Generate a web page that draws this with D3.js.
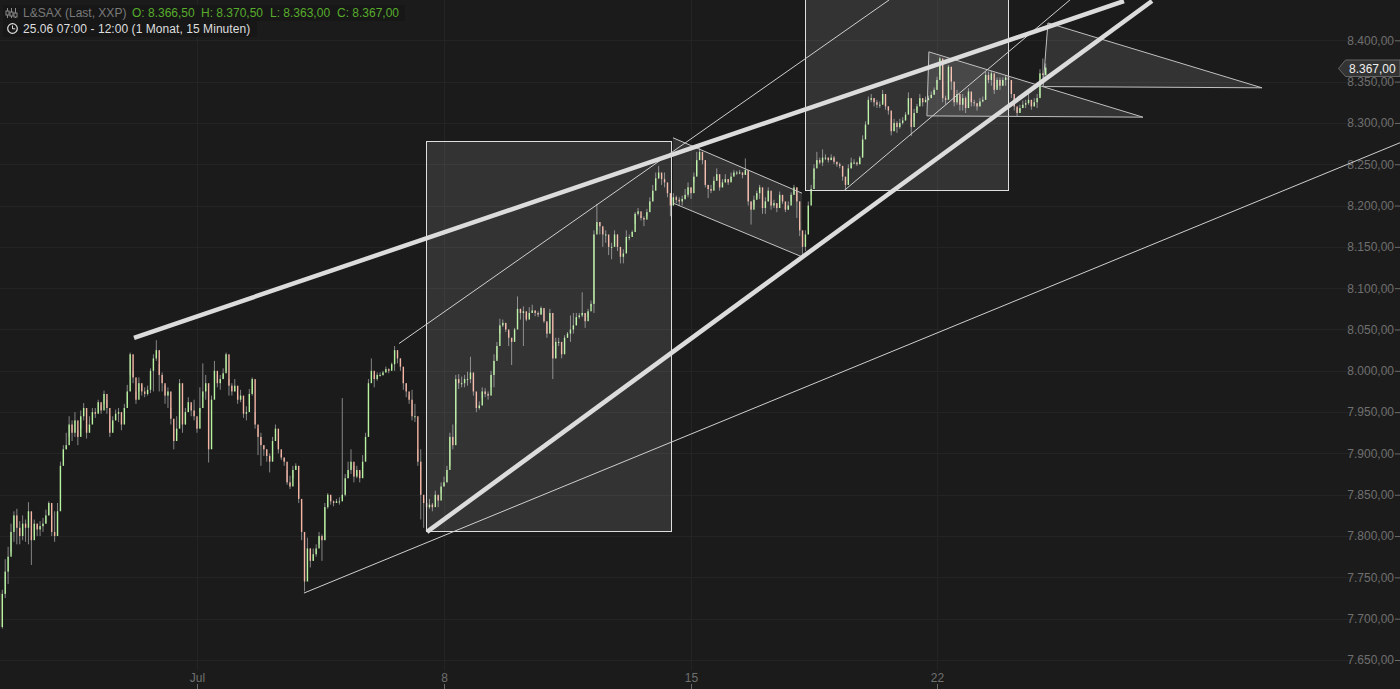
<!DOCTYPE html>
<html>
<head>
<meta charset="UTF-8">
<title>L&amp;SAX</title>
<script src="https://cdn.jsdelivr.net/npm/d3@7"></script>
<style type="text/css">
html, body { margin: 0; padding: 0; background: #1b1b1b; overflow: hidden; }
svg { display: block; font-family: "Liberation Sans", Arial, sans-serif; }
</style>
</head>
<body>
<div class="chart"></div>
<script>
// bars per week as [close, high, low], prices
var barsJun = [
[7690,7732,7684],[7730,7735,7688],[7757,7772,7725],[7775,7787,7742],[7805,7815,7780],[7825,7830,7793],[7810,7833,7790],[7800,7818,7790],
[7815,7825,7795],[7810,7820,7793],[7830,7841,7790],[7795,7800,7765],[7815,7820,7800],[7808,7815,7800],[7812,7818,7800],[7815,7822,7805],
[7825,7832,7815],[7840,7842,7825],[7805,7825,7800],[7800,7830,7793],[7830,7840,7810],[7885,7890,7845],[7905,7910,7895],[7910,7925,7905],
[7935,7945,7920],[7925,7940,7915],[7940,7950,7920],[7920,7928,7910],[7945,7952,7930],[7955,7961,7940],[7925,7935,7918],[7935,7945,7928],
[7950,7955,7940],[7948,7955,7943],[7962,7965,7950],[7952,7958,7948],[7972,7976,7960],[7955,7965,7948],[7925,7945,7920],[7940,7945,7930],
[7948,7953,7940],[7950,7955,7938],[7935,7940,7928],[7955,7960,7950],[7975,7983,7960],[8020,8022,7995],[7992,8000,7985],[7965,7975,7960],
[7985,7992,7975],[7975,7983,7970],[7972,7980,7968],[7977,7982,7970],[8000,8003,7973],[8015,8020,7975],[8025,8037,8012],[7995,8008,7975],
[7985,7998,7975],[7970,7982,7960],[7975,7980,7955],[7942,7955,7935],[7915,7930,7905],[7930,7945,7922],[7985,7990,7945],[7935,7945,7925],
[7950,7955,7935],[7962,7968,7950],[7952,7958,7945],[7945,7965,7940]
];
var barsJul1 = [
[7930,7940,7925],[7955,7980,7950],[7975,8009,7968],[7985,7995,7965],[7905,7965,7889],[7965,7970,7910],[8000,8012,7990],[7985,7995,7980],
[7990,7995,7977],[7997,8003,7990],[8020,8022,8000],[7982,7990,7970],[7975,7985,7970],[7982,7990,7975],[7965,7972,7960],[7970,7977,7962],
[7948,7955,7943],[7950,7957,7940],[7972,7978,7960],[7990,7992,7970],[7935,7950,7930],[7920,7930,7898],[7910,7925,7885],[7905,7910,7897],
[7897,7905,7890],[7890,7900,7877],[7915,7920,7893],[7930,7935,7917],[7905,7915,7900],[7895,7900,7892],[7890,7895,7885],[7865,7880,7862],
[7860,7873,7857],[7880,7885,7870],[7885,7888,7880],[7845,7865,7840],[7805,7840,7795],[7745,7790,7733],[7785,7798,7765],[7770,7785,7762],
[7778,7785,7770],[7785,7790,7775],[7800,7805,7790],[7795,7802,7770],[7835,7840,7795],[7850,7852,7833],[7842,7847,7838],[7840,7843,7836],
[7842,7845,7840],[7842,7847,7838],[7850,7967,7846],[7870,7875,7848],[7880,7890,7870],[7890,7905,7875],[7872,7885,7865],[7880,7885,7870],
[7870,7878,7865],[7890,7898,7882],[7920,7925,7895],[7985,7990,7925],[8000,8015,7990],[7990,7995,7980],[7995,7998,7988],[7995,7998,7993],
[7998,8000,7994],[8002,8005,7998],[8000,8003,7997],[8008,8010,8003],[8025,8030,8000],[8015,8022,8009],[8005,8015,8000],[7985,7995,7977],
[7975,7985,7968],[7965,7970,7960],[7945,7977,7940],[7945,7960,7938],[7890,7905,7885],[7850,7905,7820],[7840,7845,7810],[7835,7845,7830],
[7838,7845,7833],[7835,7840,7830],[7850,7855,7843],[7843,7848,7835],[7860,7865,7852]
];
var barsJul8 = [
[7865,7872,7860],[7880,7885,7865],[7920,7925,7885],[7910,7935,7905],[7990,7995,7935],[7985,7996,7978],[7985,7993,7980],[7990,7995,7980],
[7990,7999,7982],[7998,8017,7985],[7975,7992,7970],[7955,7965,7950],[7958,7963,7953],[7975,7980,7967],[7972,7979,7968],[7970,7975,7965],
[7995,8000,7980],[8012,8020,7980],[8030,8035,8015],[8055,8063,8045],[8058,8062,8053],[8050,8058,8047],[8040,8047,8030],[8035,8040,8007],
[8050,8052,8042],[8075,8090,8055],[8070,8075,8062],[8072,8078,8030],[8062,8068,8060],[8070,8077,8065],[8073,8080,8070],[8070,8073,8066],
[8068,8072,8065],[8076,8078,8068],[8060,8073,8058],[8045,8058,8040],[8070,8075,8050],[8015,8030,7990],[8035,8040,8015],[8035,8040,8030],
[8020,8025,8015],[8040,8043,8032],[8045,8047,8040],[8050,8067,8035],[8055,8070,8045],[8065,8070,8055],[8067,8070,8063],[8070,8095,8065],
[8060,8070,8052],[8072,8075,8065],[8081,8085,8078],[8165,8170,8070],[8180,8202,8170],[8175,8180,8165],[8165,8172,8150],[8165,8170,8155],
[8150,8160,8140],[8150,8155,8135],[8165,8170,8160],[8150,8165,8145],[8138,8145,8130],[8142,8147,8130],[8162,8170,8155],[8162,8165,8158],
[8168,8170,8165],[8190,8192,8178],[8193,8197,8188],[8185,8187,8182],[8183,8187,8175],[8192,8196,8187],[8205,8210,8200],[8218,8225,8205],
[8233,8240,8225],[8240,8248,8232],[8232,8238,8225],[8228,8240,8222],[8215,8225,8210],[8200,8212,8187],[8210,8215,8205],[8207,8212,8203],
[8205,8210,8200],[8208,8212,8200],[8213,8220,8207],[8222,8228,8210]
];
var barsJul15 = [
[8215,8222,8208],[8235,8240,8228],[8255,8265,8238],[8265,8270,8255],[8255,8262,8250],[8225,8245,8222],[8220,8225,8209],[8218,8225,8215],
[8230,8235,8225],[8238,8245,8230],[8222,8226,8218],[8228,8232,8222],[8232,8238,8228],[8228,8232,8225],[8235,8240,8230],[8240,8243,8237],
[8240,8242,8237],[8240,8243,8238],[8237,8240,8233],[8243,8257,8238],[8205,8240,8200],[8195,8205,8177],[8207,8212,8200],[8215,8218,8210],
[8222,8225,8208],[8197,8205,8190],[8205,8210,8190],[8218,8222,8205],[8200,8205,8195],[8203,8207,8197],[8197,8202,8192],[8213,8217,8207],
[8205,8210,8202],[8195,8200,8192],[8200,8205,8195],[8213,8216,8205],[8222,8225,8213],[8205,8222,8185],[8170,8180,8163],[8150,8155,8140],
[8165,8170,8145],[8200,8205,8170],[8220,8225,8213],[8245,8250,8232],[8255,8265,8250],[8252,8258,8250],[8258,8268,8248],[8258,8262,8255],
[8255,8258,8252],[8258,8262,8255],[8253,8260,8250],[8250,8253,8247],[8248,8252,8245],[8235,8248,8230],[8225,8232,8218],[8245,8250,8230],
[8252,8258,8245],[8252,8256,8250],[8250,8253,8248],[8258,8260,8250],[8280,8285,8262],[8298,8302,8285],[8328,8332,8315],[8330,8335,8325],
[8325,8330,8320],[8322,8328,8318],[8322,8326,8318],[8335,8340,8325],[8320,8326,8316],[8315,8320,8310],[8290,8305,8285],[8300,8305,8290],
[8295,8302,8288],[8300,8305,8293],[8303,8307,8298],[8310,8313,8303],[8330,8337,8320],[8295,8305,8284],[8312,8317,8302],[8320,8323,8315],
[8330,8335,8323],[8325,8328,8320],[8328,8332,8325],[8330,8333,8327],[8334,8338,8331],[8340,8343,8335]
];
var barsJul22 = [
[8352,8356,8348],[8378,8380,8358],[8330,8350,8325],[8328,8333,8322],[8368,8370,8345],[8350,8358,8340],[8325,8333,8320],[8335,8340,8322],
[8322,8332,8315],[8330,8335,8315],[8318,8332,8312],[8338,8342,8330],[8325,8330,8320],[8324,8328,8320],[8320,8323,8315],[8326,8330,8320],
[8328,8332,8325],[8358,8362,8328],[8352,8362,8348],[8360,8363,8345],[8340,8348,8335],[8352,8355,8343],[8345,8355,8340],[8352,8355,8345],
[8355,8358,8345],[8352,8357,8348],[8335,8350,8330],[8320,8330,8315],[8312,8318,8308],[8318,8322,8314],[8322,8327,8318],[8324,8328,8318],
[8328,8335,8322],[8320,8325,8316],[8325,8330,8320],[8330,8335,8318],[8360,8365,8332],[8358,8378,8350],[8367,8372,8357]
];

var priceTicks = [8400,8350,8300,8250,8200,8150,8100,8050,8000,7950,7900,7850,7800,7750,7700,7650];
var weekLabels = ["Jul","8","15","22"];
var lastPrice = 8367;

// drawings on the chart, points are [weeks after 1 Jul, price]
var thickLines = [
	[[-0.255,8040],[3.760,8447.5]],
	[[0.931,7805],[3.874,8447.5]]
];
var thinLines = [
	[[0.433,7731],[4.882,8276]],
	[[0.818,8033],[2.806,8449]],
	[[2.622,8218],[3.541,8449]]
];
var boxes = [
	[[0.927,8278],[1.919,7806.5]],
	[[2.463,8451],[3.289,8219]]
];
var channel = [[1.927,8282],[2.451,8215],[2.451,8138],[1.927,8203]];
var triangles = [
	[[2.967,8386],[2.959,8308.5],[3.837,8307]],
	[[3.451,8421],[3.431,8344],[4.321,8342.5]]
];

var width = 1400, height = 689;
var svg = d3.select(".chart").append("svg")
	.attr("width",width)
	.attr("height",height);

svg.append("rect")
	.attr("width",width)
	.attr("height",height)
	.attr("fill","#1b1b1b");

// flat list of bars, open is the close before
var allBars = barsJun.concat(barsJul1,barsJul8,barsJul15,barsJul22).map(function(d,i,a){
	return {i:i, open: i ? a[i-1][0] : d[1], close:d[0], high:d[1], low:d[2]};
});

var firstBars = [
	barsJun.length,
	barsJun.length+barsJul1.length,
	barsJun.length+barsJul1.length+barsJul8.length,
	barsJun.length+barsJul1.length+barsJul8.length+barsJul15.length
];
var barWeek = d3.scaleLinear().domain(firstBars).range([0,1,2,3]);
var x = d3.scaleLinear().domain([0,1,2,3]).range([197,444,691,937]);
var y = d3.scaleLinear().domain([7650,8400]).range([660,40.3]);
var barX = function(i){ return x(barWeek(i)); };

var de = d3.formatLocale({decimal:",",thousands:".",grouping:[3],currency:["","€"]});
var fmt = de.format(",.2f");

// grid
var gridColor = "#242424";
svg.append("g").selectAll("line")
	.data(priceTicks)
	.enter().append("line")
	.attr("x1",0).attr("x2",1395)
	.attr("y1",function(d){ return Math.round(y(d))+0.5; })
	.attr("y2",function(d){ return Math.round(y(d))+0.5; })
	.attr("stroke",gridColor);
svg.append("g").selectAll("line")
	.data([0,1,2,3])
	.enter().append("line")
	.attr("y1",0).attr("y2",670)
	.attr("x1",function(d){ return x(d)+0.5; })
	.attr("x2",function(d){ return x(d)+0.5; })
	.attr("stroke",gridColor);

// axes
var yAxis = d3.axisLeft(y).tickValues(priceTicks).tickFormat(fmt).tickSize(5).tickSizeOuter(0).tickPadding(1);
var xAxis = d3.axisTop(x).tickValues([0,1,2,3]).tickFormat(function(d){ return weekLabels[d]; }).tickSize(5).tickSizeOuter(0).tickPadding(2);
var gy = svg.append("g").attr("transform","translate(1400,0)").call(yAxis);
var gx = svg.append("g").attr("transform","translate(0,689)").call(xAxis);
[gy,gx].forEach(function(g){
	g.select(".domain").remove();
	g.selectAll("line").attr("stroke","#6b6b6b");
	g.selectAll("text").attr("fill","#6f6f6f").style("font-size","12px").style("font-family","'Liberation Sans'");
});

// candles
var candles = svg.append("g");
candles.selectAll(".wick")
	.data(allBars)
	.enter().append("line")
	.attr("class","wick")
	.attr("x1",function(d){ return barX(d.i); })
	.attr("x2",function(d){ return barX(d.i); })
	.attr("y1",function(d){ return y(d.high); })
	.attr("y2",function(d){ return y(d.low); })
	.attr("stroke","#858585")
	.attr("stroke-width",1);
candles.selectAll(".body")
	.data(allBars)
	.enter().append("rect")
	.attr("class","body")
	.attr("x",function(d){ return barX(d.i)-0.7; })
	.attr("width",1.4)
	.attr("y",function(d){ return y(Math.max(d.open,d.close)); })
	.attr("height",function(d){ return Math.max(1,Math.abs(y(d.open)-y(d.close))); })
	.attr("fill",function(d){ return d.close>=d.open ? "#b8f4a0" : "#f5b6a6"; });

// drawings
var toPts = function(p){ return p.map(function(q){ return x(q[0])+","+y(q[1]); }).join(" "); };
var shadeFill = "rgba(255,255,255,0.105)";

svg.append("g").selectAll("rect")
	.data(boxes)
	.enter().append("rect")
	.attr("x",function(d){ return Math.round(x(d[0][0]))+0.5; })
	.attr("y",function(d){ return Math.round(y(d[0][1]))+0.5; })
	.attr("width",function(d){ return Math.round(x(d[1][0])-x(d[0][0])); })
	.attr("height",function(d){ return Math.round(y(d[1][1])-y(d[0][1])); })
	.attr("fill",shadeFill)
	.attr("stroke","#dedede");

svg.append("polygon")
	.attr("points",toPts(channel))
	.attr("fill",shadeFill);
[[channel[0],channel[1]],[channel[3],channel[2]]].forEach(function(d){
	svg.append("line")
		.attr("x1",x(d[0][0])).attr("y1",y(d[0][1]))
		.attr("x2",x(d[1][0])).attr("y2",y(d[1][1]))
		.attr("stroke","#c4c4c4");
});

svg.append("g").selectAll("polygon")
	.data(triangles)
	.enter().append("polygon")
	.attr("points",toPts)
	.attr("fill",shadeFill)
	.attr("stroke","#c0c0c0");

svg.append("g").selectAll("line")
	.data(thinLines)
	.enter().append("line")
	.attr("x1",function(d){ return x(d[0][0]); })
	.attr("y1",function(d){ return y(d[0][1]); })
	.attr("x2",function(d){ return x(d[1][0]); })
	.attr("y2",function(d){ return y(d[1][1]); })
	.attr("stroke","#cfcfcf");

svg.append("g").selectAll("line")
	.data(thickLines)
	.enter().append("line")
	.attr("x1",function(d){ return x(d[0][0]); })
	.attr("y1",function(d){ return y(d[0][1]); })
	.attr("x2",function(d){ return x(d[1][0]); })
	.attr("y2",function(d){ return y(d[1][1]); })
	.attr("stroke","#dcdcdc")
	.attr("stroke-width",4.5);

// last price tag
var tagY = Math.round(y(lastPrice));
svg.append("polygon")
	.attr("points",[[1338.5,tagY+0.5],[1345.5,tagY-8],[1400,tagY-8],[1400,tagY+8.5],[1345.5,tagY+8.5]].join(" "))
	.attr("fill","#333333")
	.attr("stroke","#666666");
svg.append("text")
	.attr("x",1349)
	.attr("y",tagY+4.5)
	.attr("fill","#f0f0f0")
	.style("font-size","12px")
	.text(fmt(lastPrice));

// legend top left
svg.append("rect").attr("x",3).attr("y",5).attr("width",402).attr("height",16).attr("fill","#171717");
svg.append("rect").attr("x",3).attr("y",21).attr("width",254).attr("height",16).attr("fill","#171717");

var icon = svg.append("g").attr("fill","none").attr("stroke","#8a8a8a");
[7.5,11.5,15.5].forEach(function(d,i){
	icon.append("line").attr("x1",d).attr("x2",d).attr("y1",8).attr("y2",18);
	icon.append("rect").attr("x",d-1.5).attr("y",[11,12,13][i]).attr("width",3).attr("height",4).attr("fill","#1b1b1b");
});
svg.append("circle").attr("cx",12.5).attr("cy",28.5).attr("r",4.8).attr("fill","none").attr("stroke","#e0e0e0").attr("stroke-width",1.2);
svg.append("path").attr("d","M12.5 25.5V28.8H15.2").attr("fill","none").attr("stroke","#e0e0e0");

var legend = [
	{t:"L&SAX (Last, XXP)", x:23, y:17, c:"#7a7a7a", s:0},
	{t:"O: 8.366,50", x:132, y:17, c:"#58ad2c", s:0},
	{t:"H: 8.370,50", x:201, y:17, c:"#58ad2c", s:0},
	{t:"L: 8.363,00", x:270, y:17, c:"#58ad2c", s:0},
	{t:"C: 8.367,00", x:337, y:17, c:"#58ad2c", s:0},
	{t:"25.06 07:00 - 12:00 (1 Monat, 15 Minuten)", x:23, y:33, c:"#dedede", s:0.06}
];
svg.append("g").selectAll("text")
	.data(legend)
	.enter().append("text")
	.attr("x",function(d){ return d.x; })
	.attr("y",function(d){ return d.y; })
	.attr("fill",function(d){ return d.c; })
	.style("font-size","12px")
	.style("letter-spacing",function(d){ return d.s+"px"; })
	.text(function(d){ return d.t; });
</script>
</body>
</html>
